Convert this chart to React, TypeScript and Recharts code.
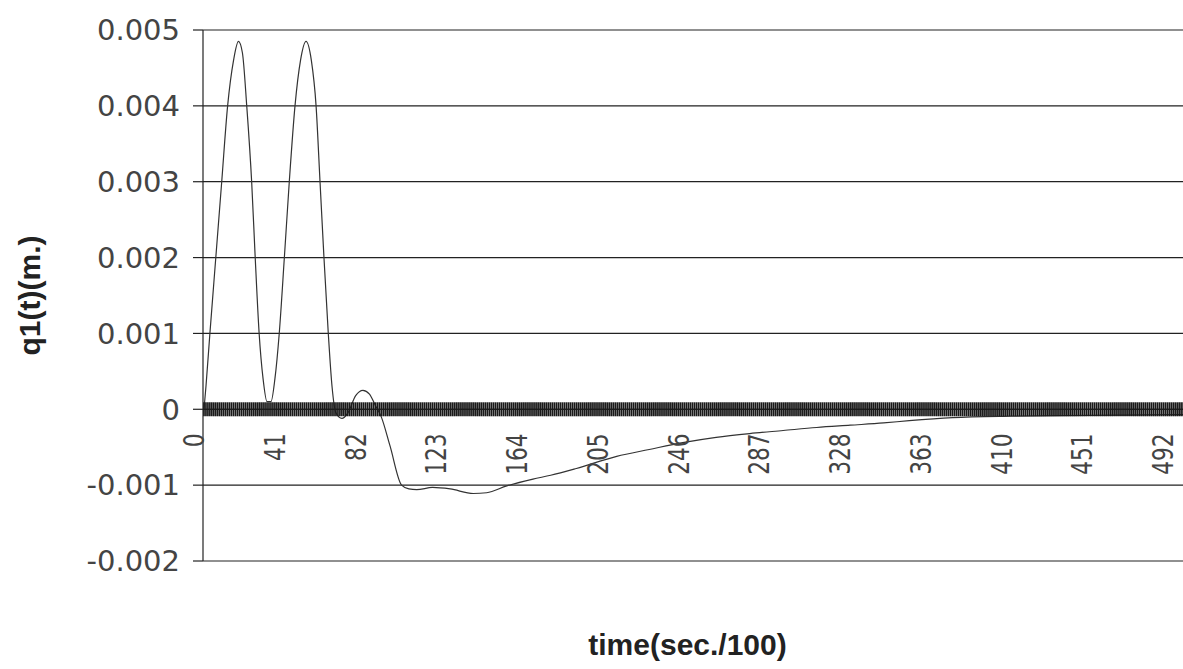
import React from "react";
import { LineChart, Line, XAxis, YAxis, CartesianGrid, ReferenceLine } from "recharts";

// time samples (sec./100) and displacement q1(t) in metres
const times = [
  0, 1, 3, 6, 9, 12, 15, 17.5, 19.5, 21.7, 24.2, 26, 28, 30, 32, 34, 36, 38.2, 40.8, 43.3,
  46.2, 49, 51.8, 54.5, 56.9, 58.9, 60.9, 63.1, 65, 67, 70, 73, 77, 80.7, 84, 87, 90, 94.4,
  100.3, 104, 108, 116, 125, 136.7, 143.5, 153.7, 167, 176, 189, 209.5, 226, 243, 260, 277,
  294, 311, 328, 345, 358, 380, 410, 450, 499,
];
const q1 = [
  0, 0.0003, 0.001, 0.002, 0.003, 0.004, 0.0046, 0.00485, 0.0047, 0.004, 0.003, 0.002, 0.001,
  0.0004, 0.0001, 0.0001, 0.0004, 0.001, 0.002, 0.003, 0.004, 0.0046, 0.00485, 0.0046, 0.004,
  0.003, 0.002, 0.001, 0.0003, -0.00005, -0.00012, -0.00005, 0.00018, 0.00025, 0.0002, 0.00005,
  -0.0001, -0.00048, -0.001, -0.00105, -0.00106, -0.00103, -0.00105, -0.00111, -0.0011, -0.00101,
  -0.00092, -0.00087, -0.00078, -0.00062, -0.00053, -0.00044, -0.00037, -0.00032, -0.00028,
  -0.00024, -0.00021, -0.00018, -0.00015, -0.00011, -0.00009, -0.00008, -0.00007,
];

const categoryCount = 500;
const xTickLabels = ["0", "41", "82", "123", "164", "205", "246", "287", "328", "363", "410", "451", "492"];
const xLabelStep = 41;
const yTicks = [-0.002, -0.001, 0, 0.001, 0.002, 0.003, 0.004, 0.005];
const yTickLabels = ["-0.002", "-0.001", "0", "0.001", "0.002", "0.003", "0.004", "0.005"];

const Y_MIN = -0.002;
const Y_MAX = 0.005;
const CHART_W = 1200;
const CHART_H = 669;
const MARGIN = { top: 30, right: 12, left: 0, bottom: 0 };
const X_AXIS_H = 108;
const PLOT_H = CHART_H - MARGIN.top - MARGIN.bottom - X_AXIS_H;

const data = times.map((t, i) => ({ t, q: q1[i] }));
const xTicks = Array.from({ length: categoryCount }, (_, i) => i);

const XTick = (props: any) => {
  const { x, y, payload } = props;
  const v = payload.value as number;
  const zeroY = y - (PLOT_H * (0 - Y_MIN)) / (Y_MAX - Y_MIN);
  const li = v % xLabelStep === 0 ? v / xLabelStep : -1;
  return (
    <g>
      <line x1={x} x2={x} y1={zeroY - 7} y2={zeroY + 7} stroke="#1a1a1a" strokeWidth={1.7} />
      {li >= 0 && li < xTickLabels.length && (
        <text
          transform={`translate(${x},${zeroY + 24}) rotate(-90) scale(0.75,1)`}
          textAnchor="end"
          fontFamily="DejaVu Sans"
          fontSize={29}
          fill="#444"
        >
          {xTickLabels[li]}
        </text>
      )}
    </g>
  );
};

const yFmt = (v: number) => {
  const i = yTicks.findIndex((t) => Math.abs(t - v) < 1e-9);
  return i >= 0 ? yTickLabels[i] : String(v);
};

export default function App() {
  return (
    <div
      style={{
        position: "absolute",
        left: 0,
        top: 0,
        width: 1183,
        height: 669,
        overflow: "hidden",
        background: "#fff",
      }}
    >
      <LineChart width={CHART_W} height={CHART_H} data={data} margin={MARGIN}>
        <CartesianGrid horizontal vertical={false} stroke="#222" strokeWidth={1.2} />
        <XAxis
          type="number"
          dataKey="t"
          domain={[-0.5, 499.5]}
          ticks={xTicks}
          interval={0}
          tickSize={0}
          tickMargin={0}
          tickLine={false}
          axisLine={false}
          height={X_AXIS_H}
          tick={<XTick />}
          label={{
            value: "time(sec./100)",
            position: "insideBottom",
            offset: 14,
            dx: -8,
            style: {
              fontFamily: "Liberation Sans",
              fontWeight: "bold",
              fontSize: 30,
              fill: "#222",
              textAnchor: "middle",
            },
          }}
        />
        <YAxis
          type="number"
          domain={[Y_MIN, Y_MAX]}
          ticks={yTicks}
          interval={0}
          width={203}
          tickSize={10}
          tickMargin={13}
          tickFormatter={yFmt}
          axisLine={{ stroke: "#222", strokeWidth: 1.2 }}
          tickLine={{ stroke: "#222", strokeWidth: 1.2 }}
          tick={{ fontFamily: "DejaVu Sans", fontSize: 29, fill: "#444" }}
          label={{
            value: "q1(t)(m.)",
            angle: -90,
            position: "insideLeft",
            offset: 29,
            style: {
              fontFamily: "Liberation Sans",
              fontWeight: "bold",
              fontSize: 30,
              fill: "#222",
              textAnchor: "middle",
            },
          }}
        />
        <ReferenceLine y={0} stroke="#222" strokeWidth={1.2} />
        <Line
          type="monotone"
          dataKey="q"
          stroke="#333"
          strokeWidth={1.2}
          dot={false}
          isAnimationActive={false}
        />
      </LineChart>
    </div>
  );
}
